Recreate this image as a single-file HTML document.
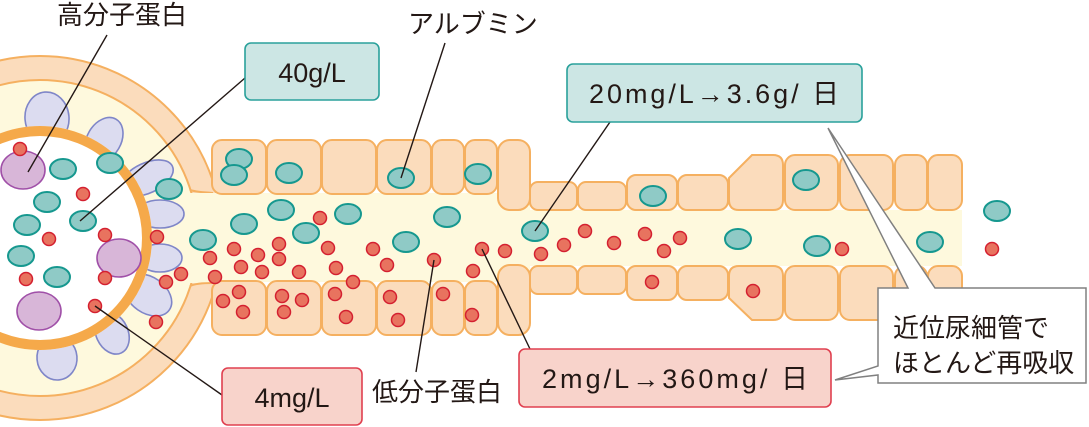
<!DOCTYPE html>
<html><head><meta charset="utf-8"><style>
html,body{margin:0;padding:0;background:#fff;}
svg{display:block;}
text{font-family:"Liberation Sans","Noto Sans CJK JP",sans-serif;fill:#231815;}
</style></head><body>
<svg width="1089" height="427" viewBox="0 0 1089 427" xmlns="http://www.w3.org/2000/svg">
<!-- capsule -->
<circle cx="40" cy="238" r="182" fill="#fbdcbc" stroke="#f5b060" stroke-width="2"/>
<circle cx="40" cy="238" r="158" fill="#fef9dd" stroke="#f5b060" stroke-width="2"/>
<!-- opening to tubule -->
<path d="M160,193 L216,193 L216,283 L160,283 Z" fill="#fef9dd"/>
<path d="M190,190 Q196,192 213,193" fill="none" stroke="#f5b060" stroke-width="2"/>
<path d="M190,286 Q196,283 213,283" fill="none" stroke="#f5b060" stroke-width="2"/>
<!-- lumen -->
<path d="M200,193 L530,193 L530,210 L962,210 L962,266 L530,266 L530,282 L200,282 Z" fill="#fef9dd"/>
<!-- cells -->
<g fill="#fbdcbc" stroke="#f5b060" stroke-width="2">
<rect x="212" y="140" width="54" height="54" rx="10"/>
<rect x="267" y="140" width="54" height="54" rx="10"/>
<rect x="322" y="140" width="54" height="54" rx="10"/>
<rect x="377" y="140" width="54" height="54" rx="10"/>
<rect x="432" y="140" width="32" height="54" rx="10"/>
<rect x="465" y="140" width="32" height="54" rx="10"/>
<rect x="498" y="140" width="32" height="70" rx="12"/>
<rect x="212" y="281" width="54" height="54" rx="10"/>
<rect x="267" y="281" width="54" height="54" rx="10"/>
<rect x="322" y="281" width="54" height="54" rx="10"/>
<rect x="377" y="281" width="54" height="54" rx="10"/>
<rect x="432" y="281" width="32" height="54" rx="10"/>
<rect x="465" y="281" width="32" height="54" rx="10"/>
<rect x="498" y="265" width="32" height="70" rx="12"/>
<rect x="530" y="182" width="47" height="28" rx="8"/>
<rect x="578" y="182" width="48" height="28" rx="8"/>
<rect x="627" y="175" width="50" height="35" rx="9"/>
<rect x="678" y="175" width="50" height="35" rx="9"/>
<path d="M729,178 L752,155 L773,155 Q783,155 783,165 L783,200 Q783,210 773,210 L739,210 Q729,210 729,200 Z"/>
<rect x="785" y="155" width="53" height="55" rx="10"/>
<rect x="840" y="155" width="53" height="55" rx="10"/>
<rect x="895" y="155" width="32" height="55" rx="10"/>
<rect x="928" y="155" width="34" height="55" rx="10"/>
<rect x="530" y="266" width="47" height="28" rx="8"/>
<rect x="578" y="266" width="48" height="28" rx="8"/>
<rect x="627" y="266" width="50" height="34" rx="9"/>
<rect x="678" y="266" width="50" height="34" rx="9"/>
<path d="M729,298 L752,320 L773,320 Q783,320 783,310 L783,276 Q783,266 773,266 L739,266 Q729,266 729,276 Z"/>
<rect x="785" y="266" width="53" height="54" rx="10"/>
<rect x="840" y="266" width="53" height="54" rx="10"/>
<rect x="895" y="266" width="32" height="54" rx="10"/>
<rect x="928" y="266" width="34" height="54" rx="10"/>
</g>
<!-- podocytes -->
<g fill="#dcdcf0" stroke="#7f86c8" stroke-width="1.6">
<ellipse cx="47" cy="118" rx="22" ry="26" transform="rotate(-5 47 118)"/>
<ellipse cx="104" cy="140" rx="17" ry="24" transform="rotate(30 104 140)"/>
<ellipse cx="147" cy="178" rx="28" ry="15" transform="rotate(-25 147 178)"/>
<ellipse cx="160" cy="214" rx="24" ry="14"/>
<ellipse cx="160" cy="258" rx="22" ry="14"/>
<ellipse cx="148" cy="295" rx="18" ry="26" transform="rotate(-55 148 295)"/>
<ellipse cx="112" cy="333" rx="16" ry="22" transform="rotate(-25 112 333)"/>
<ellipse cx="57" cy="358" rx="20" ry="22" transform="rotate(-5 57 358)"/>
</g>
<!-- ring -->
<circle cx="40" cy="238" r="112" fill="#fff"/>
<circle cx="40" cy="238" r="107" fill="#fff" stroke="#f5a94a" stroke-width="10"/>
<g fill="#d8b6d8" stroke="#a050a8" stroke-width="1.6">
<ellipse cx="23" cy="170" rx="22" ry="19"/>
<ellipse cx="119" cy="258" rx="22" ry="19"/>
<ellipse cx="39" cy="311" rx="22" ry="19"/>
</g>
<g fill="#8fcac6" stroke="#16988f" stroke-width="2">
<ellipse cx="63" cy="169" rx="13" ry="10"/>
<ellipse cx="47" cy="202" rx="13" ry="10"/>
<ellipse cx="27" cy="225" rx="13" ry="10"/>
<ellipse cx="21" cy="256" rx="13" ry="10"/>
<ellipse cx="57" cy="277" rx="13" ry="10"/>
<ellipse cx="110" cy="163" rx="13" ry="10"/>
<ellipse cx="83" cy="221" rx="13" ry="10"/>
<ellipse cx="169" cy="189" rx="13" ry="10"/>
<ellipse cx="203" cy="240" rx="13" ry="10"/>
<ellipse cx="239" cy="159" rx="13" ry="10"/>
<ellipse cx="234" cy="175" rx="13" ry="10"/>
<ellipse cx="289" cy="173" rx="13" ry="10"/>
<ellipse cx="401" cy="178" rx="13" ry="10"/>
<ellipse cx="478" cy="174" rx="13" ry="10"/>
<ellipse cx="281" cy="210" rx="13" ry="10"/>
<ellipse cx="244" cy="224" rx="13" ry="10"/>
<ellipse cx="306" cy="233" rx="13" ry="10"/>
<ellipse cx="348" cy="214" rx="13" ry="10"/>
<ellipse cx="447" cy="217" rx="13" ry="10"/>
<ellipse cx="406" cy="242" rx="13" ry="10"/>
<ellipse cx="535" cy="231" rx="13" ry="10"/>
<ellipse cx="653" cy="196" rx="13" ry="10"/>
<ellipse cx="806" cy="180" rx="13" ry="10"/>
<ellipse cx="738" cy="239" rx="13" ry="10"/>
<ellipse cx="817" cy="246" rx="13" ry="10"/>
<ellipse cx="930" cy="242" rx="13" ry="10"/>
<ellipse cx="997" cy="211" rx="13" ry="10"/>
</g>
<g fill="#e8735f" stroke="#d42030" stroke-width="1.5">
<circle cx="20" cy="149" r="6.5"/><circle cx="83" cy="194" r="6.5"/><circle cx="49" cy="239" r="6.5"/>
<circle cx="105" cy="235" r="6.5"/><circle cx="105" cy="278" r="6.5"/><circle cx="26" cy="279" r="6.5"/>
<circle cx="95" cy="306" r="6.5"/><circle cx="157" cy="237" r="6.5"/><circle cx="181" cy="274" r="6.5"/>
<circle cx="166" cy="282" r="6.5"/><circle cx="156" cy="322" r="6.5"/><circle cx="210" cy="258" r="6.5"/>
<circle cx="215" cy="277" r="6.5"/>
<circle cx="320" cy="218" r="6.5"/><circle cx="279" cy="244" r="6.5"/><circle cx="234" cy="249" r="6.5"/>
<circle cx="328" cy="248" r="6.5"/><circle cx="373" cy="249" r="6.5"/><circle cx="434" cy="260" r="6.5"/>
<circle cx="482" cy="249" r="6.5"/><circle cx="505" cy="251" r="6.5"/><circle cx="258" cy="255" r="6.5"/>
<circle cx="279" cy="259" r="6.5"/><circle cx="241" cy="267" r="6.5"/><circle cx="262" cy="272" r="6.5"/>
<circle cx="299" cy="272" r="6.5"/><circle cx="336" cy="268" r="6.5"/><circle cx="387" cy="265" r="6.5"/>
<circle cx="473" cy="271" r="6.5"/><circle cx="353" cy="282" r="6.5"/><circle cx="239" cy="292" r="6.5"/>
<circle cx="223" cy="301" r="6.5"/><circle cx="243" cy="312" r="6.5"/><circle cx="282" cy="296" r="6.5"/>
<circle cx="302" cy="300" r="6.5"/><circle cx="284" cy="312" r="6.5"/><circle cx="335" cy="294" r="6.5"/>
<circle cx="346" cy="317" r="6.5"/><circle cx="390" cy="297" r="6.5"/><circle cx="398" cy="320" r="6.5"/>
<circle cx="443" cy="294" r="6.5"/><circle cx="472" cy="315" r="6.5"/><circle cx="541" cy="254" r="6.5"/>
<circle cx="564" cy="245" r="6.5"/><circle cx="585" cy="231" r="6.5"/><circle cx="614" cy="243" r="6.5"/>
<circle cx="645" cy="234" r="6.5"/><circle cx="664" cy="251" r="6.5"/><circle cx="680" cy="238" r="6.5"/>
<circle cx="842" cy="249" r="6.5"/><circle cx="652" cy="282" r="6.5"/><circle cx="753" cy="291" r="6.5"/>
<circle cx="992" cy="249" r="6.5"/>
</g>
<g stroke="#231815" stroke-width="1.4" fill="none">
<line x1="107" y1="35" x2="28" y2="172"/>
<line x1="245" y1="78" x2="80" y2="221"/>
<line x1="445" y1="43" x2="401" y2="178"/>
<line x1="610" y1="122" x2="535" y2="231"/>
<line x1="222" y1="395" x2="95" y2="306"/>
<line x1="416" y1="372" x2="434" y2="260"/>
<line x1="530" y1="349" x2="482" y2="249"/>
</g>
<path d="M878,288 L908,288 L828,128 L935,288 L1086,288 L1086,383 L878,383 L878,375 L835,380 L878,366 Z" fill="#fff" stroke="#808080" stroke-width="1.5"/>
<text x="893" y="337" font-size="26">近位尿細管で</text>
<text x="893" y="372" font-size="26">ほとんど再吸収</text>
<rect x="245" y="43" width="134" height="57" rx="6" fill="#cce6e4" stroke="#2aa19b" stroke-width="1.6"/>
<text x="312" y="82" font-size="27" text-anchor="middle">40g/L</text>
<rect x="567" y="64" width="295" height="58" rx="6" fill="#cce6e4" stroke="#2aa19b" stroke-width="1.6"/>
<text x="714" y="103" font-size="27" text-anchor="middle" textLength="250">20mg/L→3.6g/ 日</text>
<rect x="222" y="368" width="140" height="57" rx="6" fill="#f8d3cb" stroke="#e04050" stroke-width="1.6"/>
<text x="292" y="407" font-size="27" text-anchor="middle">4mg/L</text>
<rect x="519" y="349" width="312" height="58" rx="6" fill="#f8d3cb" stroke="#e04050" stroke-width="1.6"/>
<text x="675" y="388" font-size="27" text-anchor="middle" textLength="266">2mg/L→360mg/ 日</text>
<text x="57" y="24" font-size="26">高分子蛋白</text>
<text x="408" y="33" font-size="26">アルブミン</text>
<text x="372" y="401" font-size="26">低分子蛋白</text>
</svg>
</body></html>
